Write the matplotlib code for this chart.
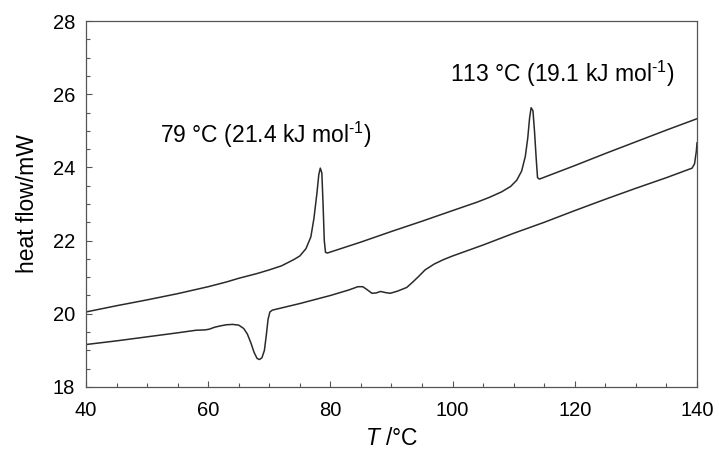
import matplotlib
matplotlib.use("Agg")
import matplotlib.pyplot as plt
from matplotlib.ticker import MultipleLocator

plt.rcParams['font.family'] = ['Liberation Sans', 'DejaVu Sans']
plt.rcParams['mathtext.fontset'] = 'custom'
plt.rcParams['mathtext.rm'] = 'Liberation Sans'
plt.rcParams['mathtext.it'] = 'Liberation Sans:italic'

# Curva superior (calentamiento)
t_upper = [40, 45, 50, 55, 60, 63, 65, 68, 70, 72, 74, 75, 76, 76.8, 77.3, 77.8,
           78.1, 78.35, 78.6, 78.8, 79.0, 79.2, 79.5, 85, 90, 95, 100, 104, 106,
           108, 109.5, 110.5, 111.3, 111.9, 112.3, 112.6, 112.85, 113.15, 113.4,
           113.7, 113.9, 114.2, 120, 125, 130, 135, 140]
hf_upper = [20.05, 20.22, 20.38, 20.55, 20.74, 20.87, 20.97, 21.10, 21.20, 21.31,
            21.48, 21.58, 21.78, 22.1, 22.6, 23.3, 23.8, 23.98, 23.85, 23.0, 22.0,
            21.68, 21.66, 21.96, 22.25, 22.53, 22.82, 23.05, 23.18, 23.33, 23.48,
            23.65, 23.9, 24.3, 24.8, 25.35, 25.63, 25.55, 25.0, 24.2, 23.72, 23.68,
            24.05, 24.38, 24.7, 25.02, 25.33]

# Curva inferior
t_lower = [40, 45, 50, 55, 58, 59.5, 60.2, 61, 62, 63, 64, 65, 65.8, 66.4, 67.0,
           67.5, 68.0, 68.4, 68.8, 69.2, 69.5, 69.8, 70.1, 70.5, 72, 75, 80, 83,
           84.5, 85.3, 86, 86.8, 87.5, 88.2, 89.0, 89.8, 91, 92.5, 93.5, 94.5,
           95.5, 97, 98.5, 100, 105, 110, 115, 120, 125, 130, 135, 139.2, 139.6,
           139.9, 140]
hf_lower = [19.16, 19.26, 19.37, 19.48, 19.55, 19.56, 19.58, 19.63, 19.67, 19.70,
            19.71, 19.69, 19.6, 19.45, 19.2, 18.95, 18.78, 18.75, 18.8, 19.0, 19.4,
            19.85, 20.05, 20.1, 20.16, 20.28, 20.5, 20.65, 20.74, 20.74, 20.66,
            20.56, 20.57, 20.61, 20.58, 20.56, 20.62, 20.72, 20.87, 21.03, 21.2,
            21.36, 21.48, 21.58, 21.88, 22.2, 22.5, 22.82, 23.13, 23.43, 23.72,
            23.98, 24.1, 24.45, 24.67]

fig = plt.figure(figsize=(7.19, 4.55), dpi=100)
ax = fig.add_axes([0.1196, 0.1495, 0.8498, 0.8043])

ax.plot(t_upper, hf_upper, color='#2a2a2a', lw=1.1)
ax.plot(t_lower, hf_lower, color='#2a2a2a', lw=1.1)

# Anotaciones de los picos
ax.text(52.1, 24.67, r'79 °C (21.4 kJ mol$^{\text{-1}}$)', fontsize=16.5, va='baseline')
ax.text(99.6, 26.34, r'113 °C (19.1 kJ mol$^{\text{-1}}$)', fontsize=16.5, va='baseline')

ax.set_xlim(40, 140)
ax.set_ylim(18, 28)
ax.xaxis.set_major_locator(MultipleLocator(20))
ax.xaxis.set_minor_locator(MultipleLocator(5))
ax.yaxis.set_major_locator(MultipleLocator(2))
ax.yaxis.set_minor_locator(MultipleLocator(0.5))

ax.tick_params(which='both', direction='in', top=False, right=False,
               color='#555555', width=0.8)
ax.tick_params(which='major', length=4.5, labelsize=14.5)
ax.tick_params(which='minor', length=3)
ax.tick_params(axis='x', which='major', pad=10)
ax.tick_params(axis='y', which='major', pad=8)

for s in ax.spines.values():
    s.set_color('#555555')
    s.set_linewidth(0.9)

ax.set_xlabel('$T$ /°C', fontsize=16.5, labelpad=5)
ax.set_ylabel('heat flow/mW', fontsize=16.5, labelpad=10)

fig.savefig('out.png', dpi=100)
